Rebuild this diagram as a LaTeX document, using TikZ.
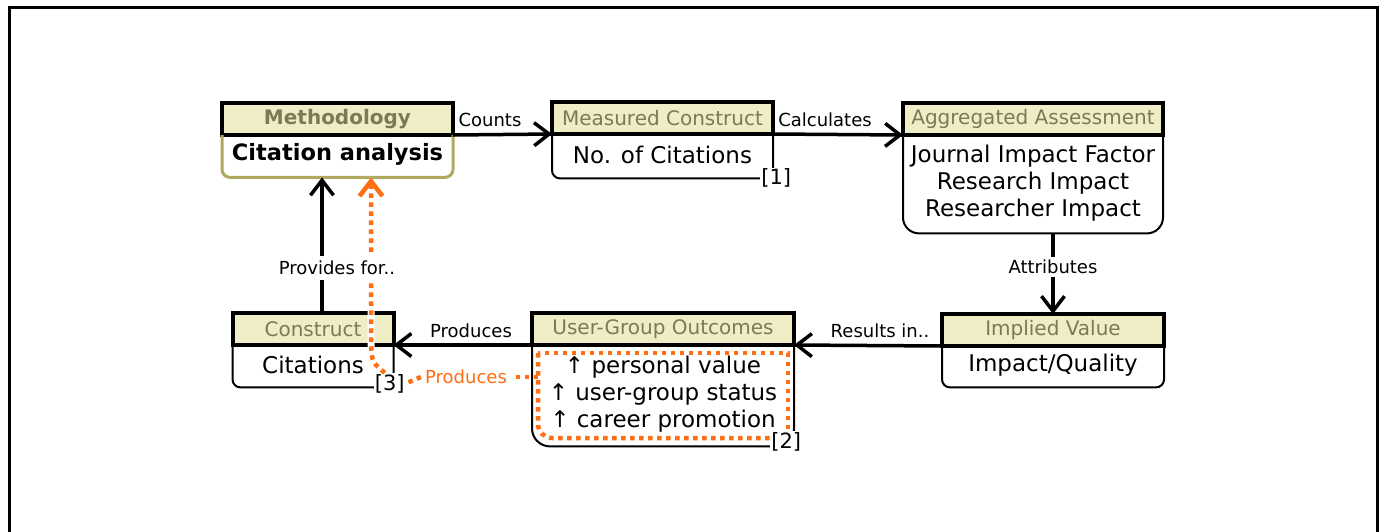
\documentclass[tikz,border=0pt]{standalone}
\usepackage{fontspec}
\setmainfont{DejaVu Sans}
\usetikzlibrary{positioning,arrows.meta}
\definecolor{hdrfill}{RGB}{238,237,198}
\definecolor{hdrtext}{RGB}{122,122,86}
\definecolor{methline}{RGB}{176,170,96}
\definecolor{prodorange}{RGB}{255,110,20}
\tikzset{hdr/.style={draw,line width=4pt,fill=hdrfill,text=hdrtext,inner sep=0pt,outer sep=0pt,minimum height=32pt,font=\fontsize{20}{24}\selectfont}}
\tikzset{bodybox/.style={anchor=north,yshift=3pt,inner sep=0pt,align=center,font=\fontsize{23}{27}\selectfont}}
\tikzset{outline/.style={line width=2pt}}
\tikzset{flow/.style={line width=3.5pt,-{Straight Barb[length=15pt,width=23pt]}}}
\tikzset{lbl/.style={inner sep=3pt,font=\fontsize{18}{22}\selectfont}}
\tikzset{cornerlbl/.style={fill=white,inner sep=1pt,font=\fontsize{21}{24}\selectfont}}
\tikzset{odot/.style={draw=prodorange,line width=4.5pt,dash pattern=on 4.5pt off 4.5pt}}

\begin{document}
\begin{tikzpicture}[x=1pt,y=-1pt]
\useasboundingbox (0,0) rectangle (1385,531);
% frame
\draw[line width=3pt] (9,545) -- (9,7) -- (1377,7) -- (1377,545);

% methodology
\node[hdr,minimum width=231pt] (methH) at (337.5,119) {\textbf{Methodology}};
\node[bodybox,minimum width=231pt,minimum height=45pt] (methB) at (methH.south) {\fontsize{22.5}{27}\selectfont\textbf{Citation analysis}};
\draw[methline,line width=3pt,rounded corners=8pt] (methH.south west) |- (methB.south) -| (methH.south east);

% measured construct
\node[hdr,minimum width=221pt] (measH) at (662.5,118) {Measured Construct};
\node[bodybox,minimum width=221pt,minimum height=47pt] (measB) at (measH.south) {No. of Citations};
\draw[outline,rounded corners=8pt] (measH.south west) |- (measB.south) -| (measH.south east);
\node[cornerlbl] (c1) at ([xshift=3pt]measB.south east) {[1]};

% aggregated assessment
\node[hdr,minimum width=260pt] (aggH) at (1033,119) {Aggregated Assessment};
\node[bodybox,minimum width=260pt,minimum height=101pt] (aggB) at (aggH.south) {Journal Impact Factor\\Research Impact\\Researcher Impact};
\draw[outline,rounded corners=16pt] (aggH.south west) |- (aggB.south) -| (aggH.south east);

% implied value
\node[hdr,minimum width=222pt] (impH) at (1053,330) {Implied Value};
\node[bodybox,minimum width=222pt,minimum height=44pt] (impB) at (impH.south) {Impact/Quality};
\draw[outline,rounded corners=8pt] (impH.south west) |- (impB.south) -| (impH.south east);

% user-group outcomes
\node[hdr,minimum width=262pt] (ugH) at (663,329) {User-Group Outcomes};
\node[bodybox,minimum width=262pt,minimum height=104pt] (ugB) at (ugH.south) {↑ personal value\\↑ user-group status\\↑ career promotion};
\draw[outline,rounded corners=18pt] (ugH.south west) |- (ugB.south) -| (ugH.south east);

% construct
\node[hdr,minimum width=161pt] (conH) at (313,329) {Construct};
\node[bodybox,minimum width=161pt,minimum height=45pt] (conB) at (conH.south) {Citations};
\draw[outline,rounded corners=8pt] (conH.south west) |- (conB.south) -| (conH.south east);

% flow arrows
\draw[flow] (methH.south east) -- (measH.south west);
\draw[flow] (measH.south east) -- (aggH.south west);
\draw[flow] (aggB.south -| impH.north) -- (impH.north);
\draw[flow] (impH.south west) -- (ugH.south east);
\draw[flow] (ugH.south west) -- (conH.south east);
\coordinate (pf) at (322,313);
\draw[flow] (pf) -- (pf |- methB.south);

% orange selection
\draw[odot,rounded corners=14pt] (538,353) -- (538,438) -- (788,438);
\draw[odot] (788,438) -- (788,353) -- (538,353);
\node[cornerlbl] (c2) at ([xshift=-8pt,yshift=5pt]ugB.south east) {[2]};
\node[cornerlbl] (c3) at ([xshift=-4pt,yshift=4pt]conB.south east) {[3]};
\coordinate (ugsel) at (538,377);
\node[lbl,text=prodorange,inner sep=4pt] (prod2) at (466,377) {Produces};
\draw[odot] (ugsel) -- (prod2.east);
\draw[odot] (prod2.west) -- (c3.east);
\coordinate (oup) at (371,345);
\draw[odot,preaction={draw=white,line width=7pt,dash pattern=},-{Straight Barb[length=15pt,width=23pt]}] (c3.115) .. controls (372,362) .. (oup) -- (oup |- methB.south);

% labels
\node[lbl] (lcounts) at (490,120) {Counts};
\node[lbl] (lcalc) at (825,120) {Calculates};
\node[lbl,fill=white] (lattr) at (1053,267) {Attributes};
\node[lbl] (lres) at (880,331) {Results in..};
\node[lbl] (lprod) at (471,331) {Produces};
\node[lbl,fill=white,inner sep=5pt] (lprov) at (337,268) {Provides for..};
\end{tikzpicture}
\end{document}
